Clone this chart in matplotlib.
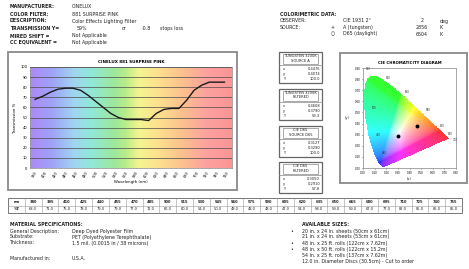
import numpy as np
import matplotlib
matplotlib.use("Agg")
import matplotlib.pyplot as plt
from matplotlib.colors import LinearSegmentedColormap
from matplotlib.patches import Rectangle
from matplotlib.path import Path

W, H = 469, 269

# transmission curve / table data
wavelengths = [380, 395, 410, 425, 440, 455, 470, 485, 500, 515, 530, 545, 560,
               575, 590, 605, 620, 635, 650, 665, 680, 695, 710, 725, 740, 755]
transmission = [68, 71, 75, 78, 79, 79, 77, 72, 66, 60, 54, 50, 48,
                48, 48, 47, 54, 58, 59, 59, 67, 77, 82, 85, 85, 85]

header_labels = ["MANUFACTURER:", "COLOR FILTER:", "DESCRIPTION:",
                 "TRANSMISSION Y=", "MIRED SHIFT =", "CC EQUIVALENT ="]
header_values = ["CINELUX", "881 SURPRISE PINK", "Color Effects Lighting Filter",
                 "", "Not Applicable", "Not Applicable"]
trans_pct = "59%"
stops_loss = "-0.8"

colorimetric_rows = [("OBSERVER:", "", "CIE 1931 2\u00b0", "2", "deg"),
                     ("SOURCE:", "+", "A (tungsten)", "2856", "K"),
                     ("", "\u25cb", "D65 (daylight)", "6504", "K")]

box_titles = [("TUNGSTEN 3200K", "SOURCE A"), ("TUNGSTEN 3200K", "FILTERED"),
              ("CIE D65", "SOURCE D65"), ("CIE D65", "FILTERED")]
box_x = [0.4476, 0.4608, 0.3127, 0.3050]
box_y = [0.4074, 0.3790, 0.3290, 0.2910]
box_Y = [100.0, 59.3, 100.0, 57.8]

# filtered chromaticities plotted on the CIE diagram
dot_x = [0.4608, 0.3050]
dot_y = [0.3790, 0.2910]

spec_labels = ["General Description:", "Substrate:", "Thickness:"]
spec_values = ["Deep Dyed Polyester Film", "PET (Polyethylene Terephthalate)",
               "1.5 mil. (0.0015 in / 38 microns)"]
sizes = ["20 in. x 24 in. sheets (50cm x 61cm)",
         "21 in. x 24 in. sheets (53cm x 61cm)",
         "48 in. x 25 ft. rolls (122cm x 7.62m)",
         "48 in. x 50 ft. rolls (122cm x 15.2m)",
         "54 in. x 25 ft. rolls (137cm x 7.62m)",
         "12.0 in. Diameter Discs (30.5cm) - Cut to order"]
size_bullets = [True, False, True, True, False, False]

# CIE 1931 spectral locus
locus_nm = [380, 420, 440, 450, 460, 470, 475, 480, 485, 490, 495, 500, 505, 510,
            515, 520, 525, 530, 540, 550, 560, 570, 580, 590, 600, 610, 620, 640, 700]
locus_x = [0.1741, 0.1714, 0.1644, 0.1566, 0.1440, 0.1241, 0.1096, 0.0913, 0.0687,
           0.0454, 0.0235, 0.0082, 0.0039, 0.0139, 0.0389, 0.0743, 0.1142, 0.1547,
           0.2296, 0.3016, 0.3731, 0.4441, 0.5125, 0.5752, 0.6270, 0.6658, 0.6915,
           0.7190, 0.7347]
locus_y = [0.0050, 0.0051, 0.0109, 0.0177, 0.0297, 0.0578, 0.0868, 0.1327, 0.2007,
           0.2950, 0.4127, 0.5384, 0.6548, 0.7502, 0.8120, 0.8338, 0.8262, 0.8059,
           0.7543, 0.6923, 0.6245, 0.5547, 0.4866, 0.4242, 0.3725, 0.3340, 0.3083,
           0.2809, 0.2653]
outer_marks = [520, 540, 560, 580, 600, 620, 700]
inner_marks = [480, 490, 500]

FS = 3.4
fig = plt.figure(figsize=(W / 100, H / 100), dpi=100)
fig.patch.set_facecolor("white")
bg = fig.add_axes([0, 0, 1, 1])
bg.set_xlim(0, W)
bg.set_ylim(H, 0)
bg.axis("off")


def txt(x, y, s, size=FS, ha="left", **kw):
    bg.text(x, y, s, fontsize=size, ha=ha, va="center", color="#222222", **kw)


# header left
rows_y = [6.5, 14.5, 21, 28.5, 36, 42.5]
for ry, lab, val in zip(rows_y, header_labels, header_values):
    txt(10, ry, lab, weight="bold")
    txt(72, ry, val)
txt(77, rows_y[3], trans_pct)
txt(122, rows_y[3], "or")
txt(142, rows_y[3], stops_loss)
txt(160, rows_y[3], "stops loss")

# header right
txt(280, 15, "COLORIMETRIC DATA:", weight="bold")
for ry, row in zip([21, 27.5, 34], colorimetric_rows):
    txt(280, ry, row[0])
    txt(333, ry, row[1], ha="center")
    txt(343, ry, row[2])
    txt(422, ry, row[3], ha="center")
    txt(440, ry, row[4])

# panels
bg.add_patch(Rectangle((8, 52), 229, 138, fill=False, ec="#8a8a8a", lw=1.3))
bg.add_patch(Rectangle((340, 53), 127, 130, fill=False, ec="#8a8a8a", lw=1.3))

# middle info boxes
for top, (t1, t2), bx, by, bY in zip([52, 89, 126, 162], box_titles, box_x, box_y, box_Y):
    bg.add_patch(Rectangle((279, top), 43, 31, fill=False, ec="#666666", lw=0.9))
    bg.add_patch(Rectangle((283, top + 1.5), 35, 10, fill=False, ec="#888888", lw=0.5))
    txt(300.5, top + 4, t1, size=2.6, ha="center")
    txt(300.5, top + 8.5, t2, size=2.6, ha="center")
    bg.plot([279, 322], [top + 13, top + 13], color="#888888", lw=0.5)
    for k, (lab, v) in enumerate(zip(["x", "y", "Y"], [f"{bx:.4f}", f"{by:.4f}", f"{bY:.1f}"])):
        ry = top + 17 + k * 5
        txt(283, ry, lab, size=2.6)
        txt(320, ry, v, size=2.6, ha="right")

# transmission chart
ax = fig.add_axes([30 / W, 1 - 168 / H, 202 / W, 101 / H])
spec_cmap = LinearSegmentedColormap.from_list("spec", [
    (0.00, "#ad88f6"), (0.11, "#9ea4f8"), (0.22, "#a0d6f0"), (0.30, "#90e8d8"),
    (0.42, "#9ee89a"), (0.47, "#b6ec8a"), (0.54, "#f4f590"), (0.64, "#fde08e"),
    (0.76, "#fcc08e"), (0.88, "#fca0a0"), (1.00, "#fc9595")])
ax.imshow(np.linspace(0, 1, 256)[None, :], extent=[370, 770, 0, 100], aspect="auto",
          cmap=spec_cmap, zorder=0)
ax.set_xlim(370, 770)
ax.set_ylim(0, 100)
ax.set_yticks(range(0, 101, 10))
ax.yaxis.grid(True, color="#4a4a4a", lw=0.5)
ax.set_axisbelow(False)
ax.plot(wavelengths, transmission, color="#1a1a1a", lw=1.0, zorder=3)
ax.set_xticks(range(380, 761, 20))
ax.set_xticklabels([str(v) for v in range(380, 761, 20)], rotation=60, fontsize=2.6)
ax.tick_params(axis="y", labelsize=2.6, length=0, pad=2)
ax.tick_params(axis="x", length=0, pad=1.5)
for s in ax.spines.values():
    s.set_color("#999999")
    s.set_linewidth(0.6)
ax.set_ylabel("Transmission %", fontsize=2.8, labelpad=2)
ax.set_xlabel("Wavelength (nm)", fontsize=2.8, labelpad=1)
ax.set_title("CINELUX 881 SURPRISE PINK", fontsize=3.0, pad=3, weight="bold")

# CIE chromaticity diagram: colour fill computed from xy -> XYZ -> sRGB
cax = fig.add_axes([363 / W, 1 - 168 / H, 93 / W, 100 / H])
gx, gy = np.meshgrid(np.linspace(0, 0.8, 240), np.linspace(0, 0.9, 240))
gys = np.clip(gy, 1e-3, None)
XYZ = np.stack([gx / gys, np.ones_like(gx), (1 - gx - gy) / gys], axis=-1)
M = np.array([[3.2406, -1.5372, -0.4986], [-0.9689, 1.8758, 0.0415], [0.0557, -0.2040, 1.0570]])
lin = np.clip(np.einsum("ijk,lk->ijl", XYZ, M), 0, None)
lin = lin / np.clip(lin.max(axis=-1, keepdims=True), 1e-6, None)
srgb = np.where(lin <= 0.0031308, 12.92 * lin, 1.055 * np.power(lin, 1 / 2.4) - 0.055)
srgb = np.nan_to_num(np.clip(0.8 * srgb + 0.2, 0, 1))
inside = Path(np.column_stack([locus_x, locus_y])).contains_points(
    np.column_stack([gx.ravel(), gy.ravel()])).reshape(gx.shape)
rgba = np.zeros(gx.shape + (4,), dtype=np.uint8)
rgba[..., :3] = (srgb * 255).astype(np.uint8)
rgba[..., 3] = np.where(inside, 255, 0)
cax.imshow(rgba, origin="lower", extent=[0, 0.8, 0, 0.9], aspect="auto", zorder=1,
           interpolation="nearest")
cax.plot(dot_x, dot_y, "o", color="black", ms=1.8, zorder=3)
for nm in outer_marks:
    i = locus_nm.index(nm)
    lx, ly = locus_x[i], locus_y[i]
    dx, dy = lx - 0.33, ly - 0.33
    n = np.hypot(dx, dy)
    cax.text(lx + 0.06 * dx / n, ly + 0.06 * dy / n, str(nm), fontsize=1.9,
             ha="center", va="center", color="#333333")
for nm in inner_marks:
    i = locus_nm.index(nm)
    cax.text(locus_x[i] + 0.09, locus_y[i], str(nm), fontsize=1.9,
             ha="center", va="center", color="#333333", zorder=4)
cax.set_xlim(0, 0.8)
cax.set_ylim(0, 0.9)
cax.set_xticks(np.arange(0, 0.81, 0.1))
cax.set_xticklabels([f"{v:.2f}" for v in np.arange(0, 0.81, 0.1)], fontsize=1.9)
cax.set_yticks(np.arange(0, 0.91, 0.1))
cax.set_yticklabels([f"{v:.2f}" for v in np.arange(0, 0.91, 0.1)], fontsize=1.9)
cax.tick_params(length=1, width=0.4, pad=1)
for s in cax.spines.values():
    s.set_color("#999999")
    s.set_linewidth(0.6)
cax.set_title("CIE CHROMATICITY DIAGRAM", fontsize=2.8, pad=3, weight="bold")
txt(345, 118, "(y)", size=2.6)
txt(409, 179, "(x)", size=2.6, ha="center")

# wavelength / transmission table
x0, x1, y0, y1 = 8, 462, 198, 213
ncol = len(wavelengths) + 1
cw = (x1 - x0) / ncol
bg.add_patch(Rectangle((x0, y0), x1 - x0, y1 - y0, fill=False, ec="#777777", lw=0.7))
bg.plot([x0, x1], [(y0 + y1) / 2] * 2, color="#999999", lw=0.4)
for c in range(1, ncol):
    bg.plot([x0 + c * cw] * 2, [y0, y1], color="#999999", lw=0.4)
txt(x0 + cw / 2, y0 + 3.8, "nm", size=2.6, ha="center", weight="bold")
txt(x0 + cw / 2, y1 - 3.8, "%T", size=2.6, ha="center", weight="bold")
for c, (wl, tv) in enumerate(zip(wavelengths, transmission), start=1):
    cx = x0 + (c + 0.5) * cw
    txt(cx, y0 + 3.8, str(wl), size=2.6, ha="center", weight="bold")
    txt(cx, y1 - 3.8, f"{tv:.1f}", size=2.6, ha="center")

# material specifications
txt(10, 224, "MATERIAL SPECIFICATIONS:", weight="bold")
for ry, lab, val in zip([231, 237, 243], spec_labels, spec_values):
    txt(10, ry, lab)
    txt(72, ry, val)
txt(10, 258, "Manufactured in:")
txt(72, 258, "U.S.A.")

# available sizes
txt(302, 224, "AVAILABLE SIZES:", weight="bold")
for ry, s, b in zip([231, 236.5, 243, 249, 255, 261], sizes, size_bullets):
    if b:
        txt(290, ry, "\u2022")
    txt(302, ry, s)

fig.savefig("out.png", dpi=100)
